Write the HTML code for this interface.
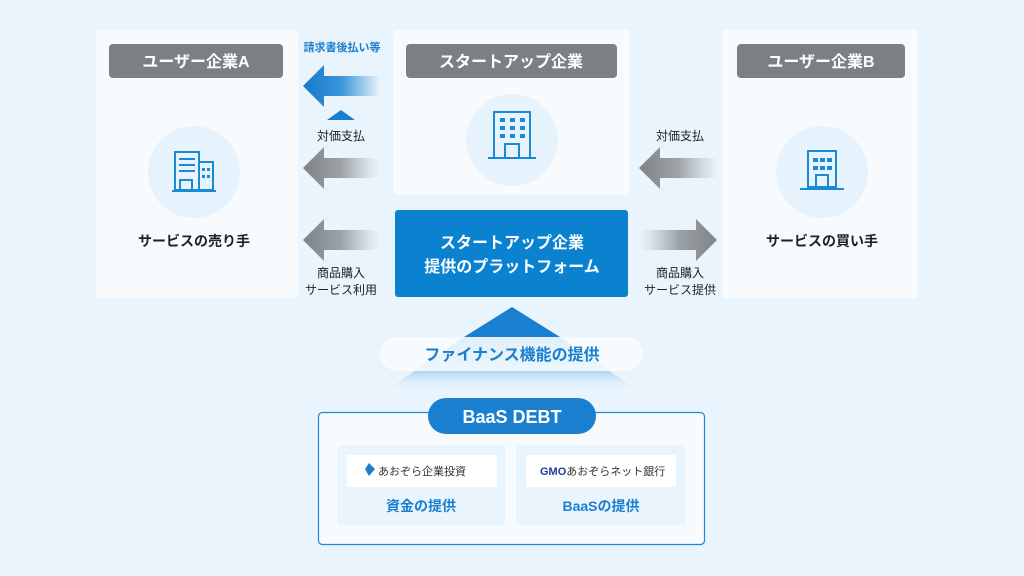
<!DOCTYPE html>
<html><head><meta charset="utf-8"><style>
html,body{margin:0;padding:0;width:1024px;height:576px;overflow:hidden;background:#eaf4fc;}
svg{display:block;font-family:"Liberation Sans","Noto Sans CJK JP",sans-serif;}
</style></head><body>
<svg width="1024" height="576" viewBox="0 0 1024 576">
<defs>
<linearGradient id="gb" x1="0" x2="1"><stop offset="0" stop-color="#1479cc"/><stop offset="0.5" stop-color="#3b95da"/><stop offset="1" stop-color="#3b95da" stop-opacity="0"/></linearGradient>
<linearGradient id="gg" x1="0" x2="1"><stop offset="0" stop-color="#7d8286"/><stop offset="0.5" stop-color="#9ea3a7"/><stop offset="1" stop-color="#b6bbbf" stop-opacity="0"/></linearGradient>
<linearGradient id="ggr" x1="1" x2="0"><stop offset="0" stop-color="#7d8286"/><stop offset="0.5" stop-color="#9ea3a7"/><stop offset="1" stop-color="#b6bbbf" stop-opacity="0"/></linearGradient>
<linearGradient id="gt" x1="0" y1="0" x2="0" y2="1"><stop offset="0" stop-color="#5fa9e2"/><stop offset="0.6" stop-color="#a9d2f1"/><stop offset="1" stop-color="#eaf4fc" stop-opacity="0"/></linearGradient>
</defs>
<rect width="1024" height="576" fill="#eaf4fc"/>
<rect x="96" y="30" width="202" height="268" rx="4" fill="#f7fbfe"/>
<rect x="393" y="30" width="237" height="165" rx="4" fill="#f7fbfe"/>
<rect x="722" y="30" width="196" height="268" rx="4" fill="#f7fbfe"/>
<rect x="109" y="44" width="174" height="34" rx="4" fill="#7b8084"/>
<text x="196" y="67" text-anchor="middle" font-size="16" font-weight="bold" fill="#fff">ユーザー企業A</text>
<rect x="406" y="44" width="211" height="34" rx="4" fill="#7b8084"/>
<text x="511" y="67" text-anchor="middle" font-size="16" font-weight="bold" fill="#fff">スタートアップ企業</text>
<rect x="737" y="44" width="168" height="34" rx="4" fill="#7b8084"/>
<text x="821" y="67" text-anchor="middle" font-size="16" font-weight="bold" fill="#fff">ユーザー企業B</text>
<circle cx="194" cy="172" r="46" fill="#e6f2fc"/>
<circle cx="512" cy="140" r="46" fill="#e6f2fc"/>
<circle cx="822" cy="172" r="46" fill="#e6f2fc"/>
<g stroke="#1a8ad4" stroke-width="2" fill="none">
<rect x="175" y="152" width="24" height="38"/><rect x="199" y="162" width="14" height="28"/>
<line x1="179" y1="159" x2="195" y2="159"/><line x1="179" y1="165" x2="195" y2="165"/><line x1="179" y1="171" x2="195" y2="171"/>
<rect x="180" y="180" width="12" height="10"/><line x1="172" y1="191" x2="216" y2="191"/>
<rect x="494" y="112" width="36" height="46"/><line x1="488" y1="158" x2="536" y2="158"/>
<rect x="505" y="144" width="14" height="14"/>
<rect x="808" y="151" width="28" height="36"/><line x1="800" y1="189" x2="844" y2="189"/>
<rect x="816" y="175" width="12" height="13"/>
</g>
<g fill="#1a8ad4">
<rect x="500" y="118" width="5" height="4"/><rect x="510" y="118" width="5" height="4"/><rect x="520" y="118" width="5" height="4"/>
<rect x="500" y="126" width="5" height="4"/><rect x="510" y="126" width="5" height="4"/><rect x="520" y="126" width="5" height="4"/>
<rect x="500" y="134" width="5" height="4"/><rect x="510" y="134" width="5" height="4"/><rect x="520" y="134" width="5" height="4"/>
<rect x="813" y="158" width="5" height="4"/><rect x="820" y="158" width="5" height="4"/><rect x="827" y="158" width="5" height="4"/>
<rect x="813" y="166" width="5" height="4"/><rect x="820" y="166" width="5" height="4"/><rect x="827" y="166" width="5" height="4"/>
<rect x="202" y="168" width="3" height="3"/><rect x="207" y="168" width="3" height="3"/><rect x="202" y="175" width="3" height="3"/><rect x="207" y="175" width="3" height="3"/>
</g>
<text x="194" y="246" text-anchor="middle" font-size="14" font-weight="bold" fill="#222">サービスの売り手</text>
<text x="822" y="246" text-anchor="middle" font-size="14" font-weight="bold" fill="#222">サービスの買い手</text>
<rect x="395" y="210" width="233" height="87" rx="3" fill="#0a82d0"/>
<text x="512" y="248" text-anchor="middle" font-size="16" font-weight="bold" fill="#fff">スタートアップ企業</text>
<text x="512" y="272" text-anchor="middle" font-size="16" font-weight="bold" fill="#fff">提供のプラットフォーム</text>
<text x="342" y="51" text-anchor="middle" font-size="11" font-weight="bold" fill="#1a7fcf">請求書後払い等</text>
<path d="M303,86 L324,65 L324,76 L380,76 L380,96 L324,96 L324,107 Z" fill="url(#gb)"/>
<path d="M327,120 L341,110 L355,120 Z" fill="#1a7fcf"/>
<text x="341" y="140" text-anchor="middle" font-size="12" fill="#222">対価支払</text>
<path d="M303,168 L324,147 L324,158 L380,158 L380,178 L324,178 L324,189 Z" fill="url(#gg)"/>
<path d="M303,240 L324,219 L324,230 L380,230 L380,250 L324,250 L324,261 Z" fill="url(#gg)"/>
<text x="341" y="277" text-anchor="middle" font-size="12" fill="#222">商品購入</text>
<text x="341" y="294" text-anchor="middle" font-size="12" fill="#222">サービス利用</text>
<text x="680" y="140" text-anchor="middle" font-size="12" fill="#222">対価支払</text>
<path d="M639,168 L660,147 L660,158 L718,158 L718,178 L660,178 L660,189 Z" fill="url(#gg)"/>
<path d="M717,240 L696,219 L696,230 L640,230 L640,250 L696,250 L696,261 Z" fill="url(#ggr)"/>
<text x="680" y="277" text-anchor="middle" font-size="12" fill="#222">商品購入</text>
<text x="680" y="294" text-anchor="middle" font-size="12" fill="#222">サービス提供</text>
<path d="M512,307 L560,337 L464,337 Z" fill="#1a7fcf"/>
<path d="M464,337 L560,337 L640,392 L384,392 Z" fill="url(#gt)"/>
<rect x="380" y="337" width="263" height="34" rx="17" fill="#f7fbfe" opacity="0.85"/>
<text x="512" y="360" text-anchor="middle" font-size="16" font-weight="bold" fill="#1a7fcf">ファイナンス機能の提供</text>
<rect x="318.5" y="412.5" width="386" height="132" rx="4" fill="#f7fbfe" stroke="#1a8ad4" stroke-width="1.2"/>
<rect x="428" y="398" width="168" height="36" rx="18" fill="#1a7fcf"/>
<text x="512" y="423" text-anchor="middle" font-size="18" font-weight="bold" fill="#fff">BaaS DEBT</text>
<rect x="337" y="445" width="168" height="80" rx="4" fill="#eaf4fc"/>
<rect x="516" y="445" width="170" height="80" rx="4" fill="#eaf4fc"/>
<rect x="347" y="455" width="150" height="32" fill="#fff"/>
<rect x="526" y="455" width="150" height="32" fill="#fff"/>
<path d="M369,463 L375,469 L369,476 L365,469 Z" fill="#1a7fcf"/>
<text x="378" y="475" font-size="11" fill="#333">あおぞら企業投資</text>
<text x="540" y="475" font-size="11" font-weight="bold" fill="#1c3f94">GMO<tspan font-weight="normal" fill="#333">あおぞらネット銀行</tspan></text>
<text x="421" y="511" text-anchor="middle" font-size="14" font-weight="bold" fill="#1a7fcf">資金の提供</text>
<text x="601" y="511" text-anchor="middle" font-size="14" font-weight="bold" fill="#1a7fcf">BaaSの提供</text>
</svg>
</body></html>
